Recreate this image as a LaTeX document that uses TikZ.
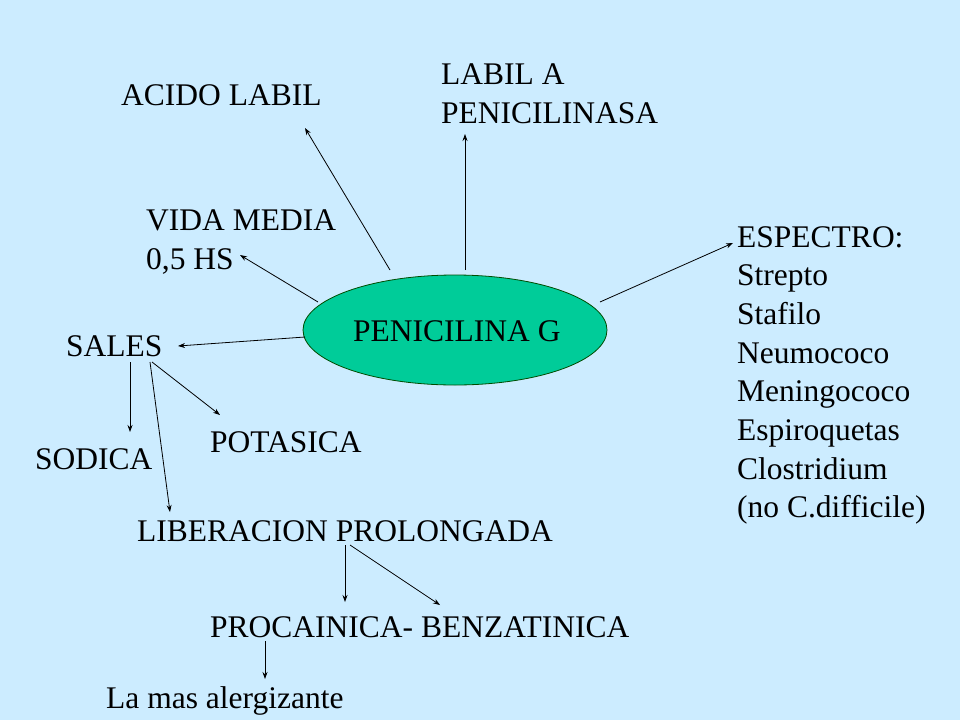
\documentclass[tikz,border=0pt]{standalone}
\usepackage{fontspec}
\setmainfont{Liberation Serif}
\usetikzlibrary{arrows.meta,shapes.geometric}

\tikzset{
    txt/.style={anchor=base west,inner sep=0pt,font=\fontsize{31.5}{38.7}\selectfont},
    blk/.style={anchor=north west,inner sep=0pt,align=left,font=\fontsize{31.5}{38.7}\selectfont},
    arr/.style={-{Stealth[length=7pt,width=5pt]},line width=0.8pt}
}

\begin{document}
\begin{tikzpicture}[x=1pt,y=-1pt]
    \fill[fill={rgb,255:red,204;green,236;blue,255}] (0,0) rectangle (960,720);

    \node[ellipse,draw=black!70!green,line width=0.8pt,fill={rgb,255:red,0;green,204;blue,153},
          minimum width=304pt,minimum height=110pt] (pen) at (455,330) {};
    \node[txt] (pentxt) at (353,341) {PENICILINA G};

    \node[txt] (acido) at (121,105) {ACIDO LABIL};
    \node[blk] (labil) at (441,64) {LABIL A\\PENICILINASA};
    \node[blk] (vida) at (146,210) {VIDA MEDIA\\0,5 HS};
    \node[blk] (espectro) at (737,226) {ESPECTRO:\\Strepto\\Stafilo\\Neumococo\\Meningococo\\Espiroquetas\\Clostridium\\(no C.difficile)};
    \node[txt] (sales) at (66,356) {SALES};
    \node[txt] (sodica) at (35,469) {SODICA};
    \node[txt] (potasica) at (210,452) {POTASICA};
    \node[txt] (liber) at (137,541) {LIBERACION PROLONGADA};
    \node[txt] (proca) at (210,637) {PROCAINICA- BENZATINICA};
    \node[txt] (alerg) at (106,708) {La mas alergizante};

    % connector ends
    \coordinate (a1) at (390,270); \coordinate (a2) at (305,128);
    \coordinate (b1) at (465,270); \coordinate (b2) at (465,134);
    \coordinate (c1) at (600,302); \coordinate (c2) at (733,243);
    \coordinate (d1) at (318,302); \coordinate (d2) at (240,255);
    \coordinate (e1) at (305,337); \coordinate (e2) at (178,346);
    \coordinate (s1) at (130,362); \coordinate (s2) at (130,432);
    \coordinate (t1) at (152,362); \coordinate (t2) at (220,415);
    \coordinate (u1) at (150,362); \coordinate (u2) at (170,512);
    \coordinate (v1) at (345,545); \coordinate (v2) at (345,602);
    \coordinate (w1) at (350,545); \coordinate (w2) at (440,605);
    \coordinate (z1) at (265,641); \coordinate (z2) at (265,679);

    \foreach \p in {a,b,c,d,e,s,t,u,v,w,z}
        \draw[arr] (\p1) -- (\p2);
\end{tikzpicture}
\end{document}
